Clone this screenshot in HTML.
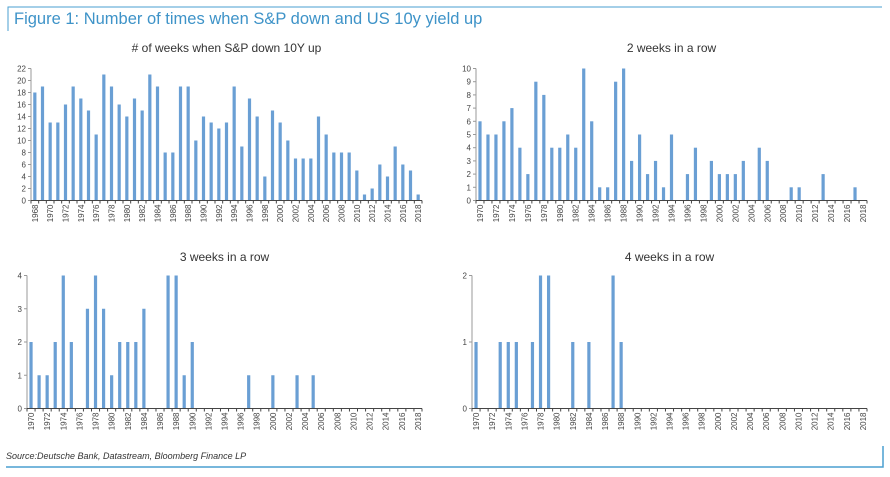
<!DOCTYPE html>
<html><head><meta charset="utf-8"><style>
body{margin:0;background:#fff;font-family:"Liberation Sans",sans-serif}
svg{display:block}
</style></head><body>
<svg id="s" width="890" height="477" xmlns="http://www.w3.org/2000/svg">
<rect width="890" height="477" fill="#fff"/>
<path d="M8,31 V7 H882" fill="none" stroke="#4a9fd0" stroke-width="1"/>
<text x="14" y="24" font-size="16.5" fill="#3e93c8">Figure 1: Number of times when S&amp;P down and US 10y yield up</text>
<text x="6" y="459" font-size="9" font-style="italic" fill="#333">Source:Deutsche Bank, Datastream, Bloomberg Finance LP</text>
<path d="M6,467 H883 V446" fill="none" stroke="#4a9fd0" stroke-width="1.5"/>
</svg>
<script>
const years1 = [];for(let y=1968;y<=2018;y++)years1.push(y);
const years2 = [];for(let y=1970;y<=2018;y++)years2.push(y);
const values1 = [18,19,13,13,16,19,17,15,11,21,19,16,14,17,15,21,19,8,8,19,19,10,14,13,12,13,19,9,17,14,4,15,13,10,7,7,7,14,11,8,8,8,5,1,2,6,4,9,6,5,1];
const values2 = [6,5,5,6,7,4,2,9,8,4,4,5,4,10,6,1,1,9,10,3,5,2,3,1,5,0,2,4,0,3,2,2,2,3,0,4,3,0,0,1,1,0,0,2,0,0,0,1,0];
const values3 = [2,1,1,2,4,2,0,3,4,3,1,2,2,2,3,0,0,4,4,1,2,0,0,0,0,0,0,1,0,0,1,0,0,1,0,1,0,0,0,0,0,0,0,0,0,0,0,0,0];
const values4 = [1,0,0,1,1,1,0,1,2,2,0,0,1,0,1,0,0,2,1,0,0,0,0,0,0,0,0,0,0,0,0,0,0,0,0,0,0,0,0,0,0,0,0,0,0,0,0,0,0];
const ticks1 = [0,2,4,6,8,10,12,14,16,18,20,22];
const ticks2 = [0,1,2,3,4,5,6,7,8,9,10];
const ticks3 = [0,1,2,3,4];
const ticks4 = [0,1,2];
const titles = ["# of weeks when S&P down 10Y up","2 weeks in a row","3 weeks in a row","4 weeks in a row"];
const svg=document.getElementById('s');const NS="http://www.w3.org/2000/svg";
function mk(t,a){const e=document.createElementNS(NS,t);for(const k in a)e.setAttribute(k,a[k]);svg.appendChild(e);return e;}
function panel(idx,cats,vals,ticks,x0,x1,y0,y1,titleY){
  const max=ticks[ticks.length-1];const n=cats.length;const bw=(x1-x0)/n;
  const X=i=>x0+bw*(i+0.5);const Y=v=>y0-(y0-y1)*v/max;
  const t=mk('text',{x:(x0+x1)/2,y:titleY,'font-size':12,'text-anchor':'middle',fill:'#333'});t.textContent=titles[idx];
  
  
  vals.forEach((v,i)=>{if(v<=0)return;const r=mk('rect',{x:X(i)-1.6,y:Y(v),width:3.2,height:y0-Y(v),fill:'#6a9fd4'});
    
    });
  const ya=mk('line',{x1:x0,y1:y0,x2:x0,y2:y1,stroke:'#999','stroke-width':1});
  
  
  const xa=mk('line',{x1:x0,y1:y0,x2:x1,y2:y0,stroke:'#444','stroke-width':1});
  
  
  ticks.forEach(tv=>{mk('line',{x1:x0-3,y1:Y(tv),x2:x0,y2:Y(tv),stroke:'#999'});
    const l=mk('text',{x:x0-5,y:Y(tv)+3,'font-size':8,'text-anchor':'end',fill:'#444'});l.textContent=tv;
    
    });
  for(let i=0;i<=n;i++)mk('line',{x1:x0+bw*i,y1:y0,x2:x0+bw*i,y2:y0+3,stroke:'#444'});
  cats.forEach((c,i)=>{if(c%2)return;const xx=X(i)+3,yy=y0+4;
    const l=mk('text',{x:xx,y:yy,'font-size':8,'text-anchor':'end',fill:'#444',transform:`rotate(-90 ${xx} ${yy})`});l.textContent=c;
    
    });
}
panel(0,years1,values1,ticks1,31,422,200.5,68.5,52);
panel(1,years2,values2,ticks2,476,867,200.5,68.5,52);
panel(2,years2,values3,ticks3,27,422,408.5,275.5,261);
panel(3,years2,values4,ticks4,472,867,408.5,275.5,261);
</script>
</body></html>
